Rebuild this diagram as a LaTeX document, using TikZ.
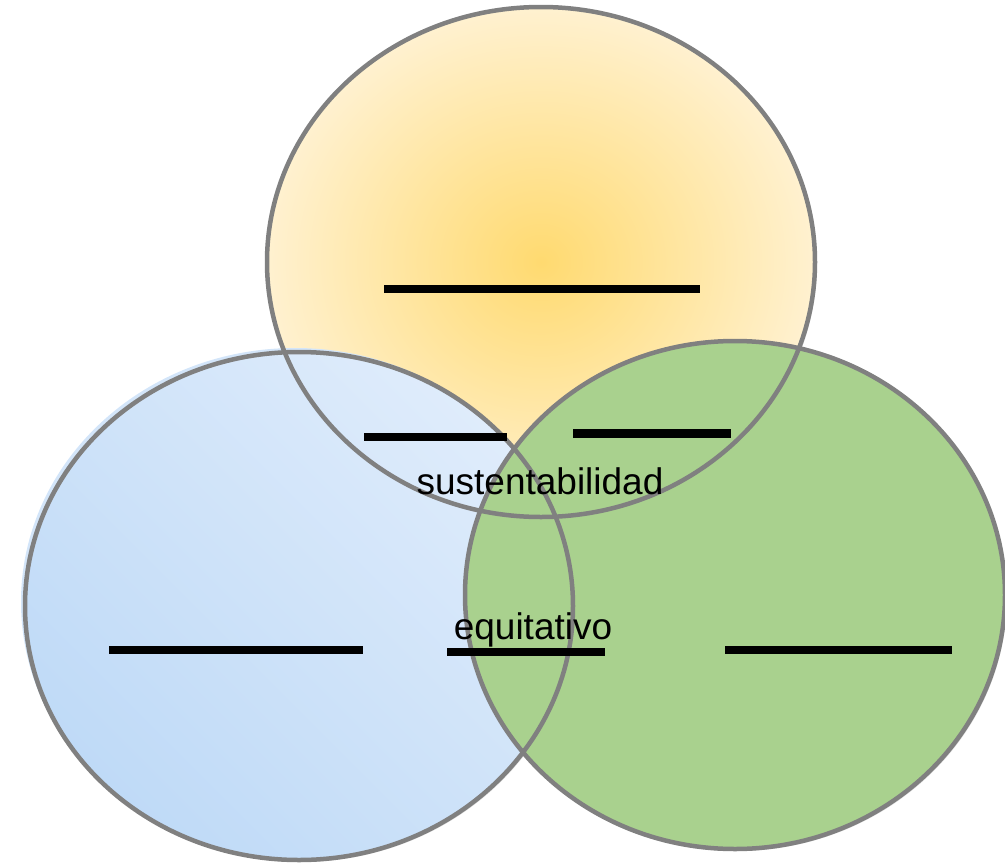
\documentclass[tikz,border=0pt]{standalone}
\usepackage{fontspec}
\setmainfont{Liberation Sans}
\usetikzlibrary{shadows}

\definecolor{sunCore}{HTML}{FFDA70}
\definecolor{sunEdge}{HTML}{FFF1D0}
\definecolor{skyLight}{HTML}{DFECFB}
\definecolor{skyDark}{HTML}{BFDAF7}
\definecolor{skyGlow}{HTML}{D3E5F9}
\definecolor{leafGreen}{HTML}{A9D18E}
\definecolor{rimGray}{HTML}{808080}

\begin{document}
\begin{tikzpicture}[x=1pt, y=-1pt,
        rim/.style={draw=rimGray, line width=4.5pt},
        blank/.style={line width=8.4pt, black},
        word/.style={font=\fontsize{37}{44}\selectfont, inner sep=0pt, anchor=base}]

            \useasboundingbox (0,0) rectangle (1005,865);

            % fills, back to front
            \shade[inner color=sunCore, outer color=sunEdge, drop shadow={shadow xshift=2pt, shadow yshift=-2pt, opacity=.25}] (541,262) ellipse (274 and 255); % top
            \fill[skyGlow] (295,602) ellipse (274 and 254); % glow of left
            \shade[bottom color=skyDark, top color=skyLight, shading angle=-45, drop shadow={shadow xshift=2pt, shadow yshift=-2pt, opacity=.25}] (299,606) ellipse (274 and 254); % left
            \fill[leafGreen, drop shadow={shadow xshift=2pt, shadow yshift=-2pt, opacity=.25}] (735,595) ellipse (270 and 254); % right

            % outlines on top of all fills
            \draw[rim] (541,262) ellipse (274 and 255);
            \draw[rim] (299,606) ellipse (274 and 254);
            \draw[rim] (735,595) ellipse (270 and 254);

            % blanks
            \draw[blank] (384,289) -- (700,289); % top
            \draw[blank] (364,437) -- (507,437); % top-left
            \draw[blank] (573,433.5) -- (731,433.5); % top-right
            \draw[blank] (109,650) -- (363,650); % left
            \draw[blank] (447,652) -- (605,652); % middle
            \draw[blank] (725,650) -- (952,650); % right

            % labels
            \node[word] (sust) at (540,494) {sustentabilidad};
            \node[word] (equi) at (533,639) {equitativo};

        \end{tikzpicture}
\end{document}
